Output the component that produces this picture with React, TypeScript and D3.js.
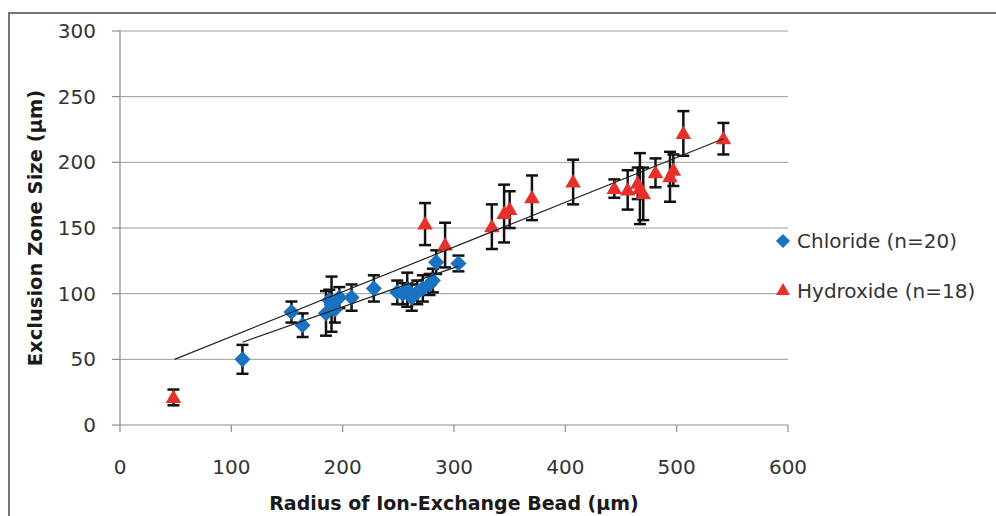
import React from 'react';
import * as d3 from 'd3';

// values
const chlorideX = [110, 154, 164, 185, 188, 190, 193, 197, 208, 228, 249, 254, 258, 262, 267, 272, 278, 281, 284, 304];
const chlorideY = [50, 86, 76, 85, 95, 92, 88, 97, 97, 104, 101, 100, 103, 97, 101, 104, 107, 110, 124, 123];
const chlorideErr = [11, 8, 9, 17, 8, 21, 10, 8, 10, 10, 9, 8, 13, 10, 9, 10, 8, 9, 9, 6];

const hydroxideX = [48, 274, 292, 334, 345, 350, 370, 407, 444, 456, 465, 467, 470, 481, 494, 497, 506, 542];
const hydroxideY = [21, 153, 137, 151, 161, 164, 173, 185, 180, 179, 184, 180, 176, 192, 189, 194, 222, 218];
const hydroxideErr = [6, 16, 17, 17, 22, 14, 17, 17, 7, 15, 12, 27, 20, 11, 19, 12, 17, 12];

// trendline end points
const chlorideFitX = [110, 304];
const chlorideFitY = [63, 121];
const hydroxideFitX = [49, 542];
const hydroxideFitY = [50, 218];

const xTicks = [0, 100, 200, 300, 400, 500, 600];
const yTicks = [0, 50, 100, 150, 200, 250, 300];

const seriesNames = ['Chloride (n=20)', 'Hydroxide (n=18)'];

const W = 996;
const H = 516;
const BLUE = '#1A73C2';
const RED = '#E5302C';
const FONT = '"DejaVu Sans", sans-serif';

const x = d3.scaleLinear().domain([0, 600]).range([120, 788]);
const y = d3.scaleLinear().domain([0, 300]).range([425, 31]);

const diamond = d3.symbol(d3.symbolSquare, 130)();
const triangle = d3.symbol(d3.symbolTriangle, 105)();

const line = d3.line<[number, number]>().x(d => x(d[0])).y(d => y(d[1]));

const ErrorBars = ({ xs, ys, errs }: { xs: number[]; ys: number[]; errs: number[] }) => (
  <g stroke="#111" strokeWidth={2.5} fill="none">
    {xs.map((v, i) => {
      const cx = x(v);
      const top = y(ys[i] + errs[i]);
      const bot = y(ys[i] - errs[i]);
      return (
        <g key={i}>
          <line x1={cx} x2={cx} y1={top} y2={bot} />
          <line x1={cx - 6} x2={cx + 6} y1={top} y2={top} />
          <line x1={cx - 6} x2={cx + 6} y1={bot} y2={bot} />
        </g>
      );
    })}
  </g>
);

export default function App() {
  const chlorideFit = chlorideFitX.map((v, i) => [v, chlorideFitY[i]] as [number, number]);
  const hydroxideFit = hydroxideFitX.map((v, i) => [v, hydroxideFitY[i]] as [number, number]);

  return (
    <svg width={W} height={H} style={{ position: 'absolute', left: 0, top: 0, background: '#fff' }} fontFamily={FONT}>
      <rect x={9} y={13} width={W + 20} height={H + 20} fill="#fff" stroke="#747474" strokeWidth={2} />

      {/* gridlines */}
      <g stroke="#9a9a9a" strokeWidth={1}>
        {yTicks.filter(t => t > 0).map(t => (
          <line key={t} x1={x(0)} x2={x(600)} y1={y(t)} y2={y(t)} />
        ))}
      </g>

      {/* axes */}
      <g stroke="#8c8c8c" strokeWidth={1.2}>
        <line x1={x(0)} x2={x(0)} y1={y(0)} y2={y(300)} />
        <line x1={x(0)} x2={x(600)} y1={y(0)} y2={y(0)} />
        {yTicks.map(t => (
          <line key={'y' + t} x1={x(0) - 8} x2={x(0)} y1={y(t)} y2={y(t)} />
        ))}
        {xTicks.map(t => (
          <line key={'x' + t} x1={x(t)} x2={x(t)} y1={y(0)} y2={y(0) + 7} />
        ))}
      </g>

      <g fontSize={20} fill="#333">
        {yTicks.map(t => (
          <text key={'yl' + t} x={96} y={y(t)} textAnchor="end" dominantBaseline="central">{t}</text>
        ))}
        {xTicks.map(t => (
          <text key={'xl' + t} x={x(t)} y={467} textAnchor="middle" dominantBaseline="central">{t}</text>
        ))}
      </g>

      <text x={(x(0) + x(600)) / 2} y={503} textAnchor="middle" dominantBaseline="central" fontSize={19} fontWeight="bold" fill="#1a1a1a">
        Radius of Ion-Exchange Bead (μm)
      </text>
      <text transform={`translate(35,${(y(0) + y(300)) / 2}) rotate(-90)`} textAnchor="middle" dominantBaseline="central" fontSize={19.5} fontWeight="bold" fill="#1a1a1a">
        Exclusion Zone Size (μm)
      </text>

      {/* error bars then markers */}
      <ErrorBars xs={chlorideX} ys={chlorideY} errs={chlorideErr} />
      <g fill={BLUE}>
        {chlorideX.map((v, i) => (
          <path key={i} d={diamond} transform={`translate(${x(v)},${y(chlorideY[i])}) rotate(45)`} />
        ))}
      </g>
      <ErrorBars xs={hydroxideX} ys={hydroxideY} errs={hydroxideErr} />
      <g fill={RED}>
        {hydroxideX.map((v, i) => (
          <path key={i} d={triangle} transform={`translate(${x(v)},${y(hydroxideY[i]) + 1})`} />
        ))}
      </g>

      {/* trendlines */}
      <path d={line(chlorideFit) || ''} fill="none" stroke="#222" strokeWidth={1.2} />
      <path d={line(hydroxideFit) || ''} fill="none" stroke="#222" strokeWidth={1.2} />

      {/* legend */}
      <g fontSize={20} fill="#333">
        <path d={d3.symbol(d3.symbolSquare, 100)()} transform="translate(783,241) rotate(45)" fill={BLUE} />
        <text x={797} y={241} dominantBaseline="central">{seriesNames[0]}</text>
        <path d={d3.symbol(d3.symbolTriangle, 85)()} transform="translate(783,291)" fill={RED} />
        <text x={797} y={291} dominantBaseline="central">{seriesNames[1]}</text>
      </g>
    </svg>
  );
}
